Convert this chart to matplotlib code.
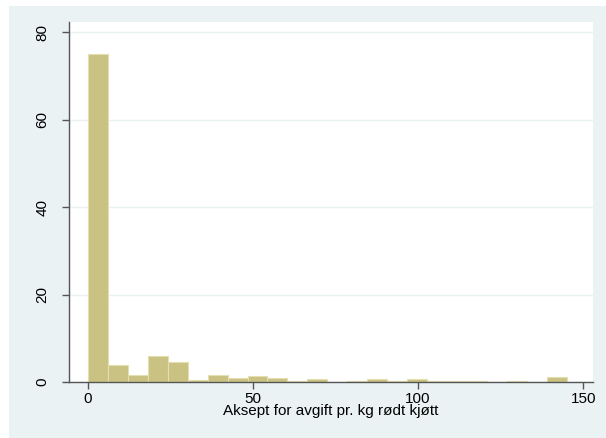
import matplotlib.pyplot as plt
from matplotlib.patches import Rectangle
import numpy as np

plt.rcParams['font.family'] = ['Liberation Sans', 'DejaVu Sans']

# histogram: 24 bins from 0 to 145, percent per bin
bin_start = 0
bin_end = 145
percent = [75.0, 3.9, 1.5, 5.9, 4.6, 0.5, 1.5, 1.0, 1.4, 1.0, 0.2, 0.7,
           0.0, 0.2, 0.6, 0.2, 0.6, 0.2, 0.2, 0.2, 0.0, 0.2, 0.0, 1.1]
xticks = [0, 50, 100, 150]
yticks = [0, 20, 40, 60, 80]
xlabel = 'Aksept for avgift pr. kg rødt kjøtt'

edges = np.linspace(bin_start, bin_end, len(percent) + 1)
width = edges[1] - edges[0]

W, H = 606, 438
fig = plt.figure(figsize=(W / 100, H / 100), dpi=100, facecolor='white')
# stata-like graph region behind the axes
fig.patches.append(Rectangle((9 / W, 0), 1 - 9 / W, 1 - 6 / H,
                             transform=fig.transFigure, facecolor='#eaf2f3',
                             edgecolor='none', zorder=-10))

ax = fig.add_axes([69 / W, (H - 382) / H, (592.7 - 69) / W, (382 - 22) / H])
ax.set_facecolor('white')

ax.bar(edges[:-1], percent, width=width, align='edge',
       color='#c9c282', edgecolor='#e4dfb0', linewidth=0.8, zorder=2)

ax.set_xlim(-5.76, 152.9)
ax.set_ylim(0, 82.3)
ax.set_xticks(xticks)
ax.set_yticks(yticks)
ax.set_yticklabels([str(t) for t in yticks], rotation=90, va='center')
ax.tick_params(axis='both', direction='out', length=5, width=1,
               color='#555555', labelsize=11)
ax.tick_params(axis='x', pad=2)
ax.tick_params(axis='y', pad=9)
ax.grid(axis='y', color='#eaf2f3', linewidth=1, zorder=1)
ax.set_axisbelow(True)

for side in ['top', 'right']:
    ax.spines[side].set_visible(False)
for side in ['left', 'bottom']:
    ax.spines[side].set_color('#555555')
    ax.spines[side].set_linewidth(1)

ax.set_xlabel(xlabel, fontsize=11, labelpad=-1)

fig.savefig('out.png', dpi=100)
